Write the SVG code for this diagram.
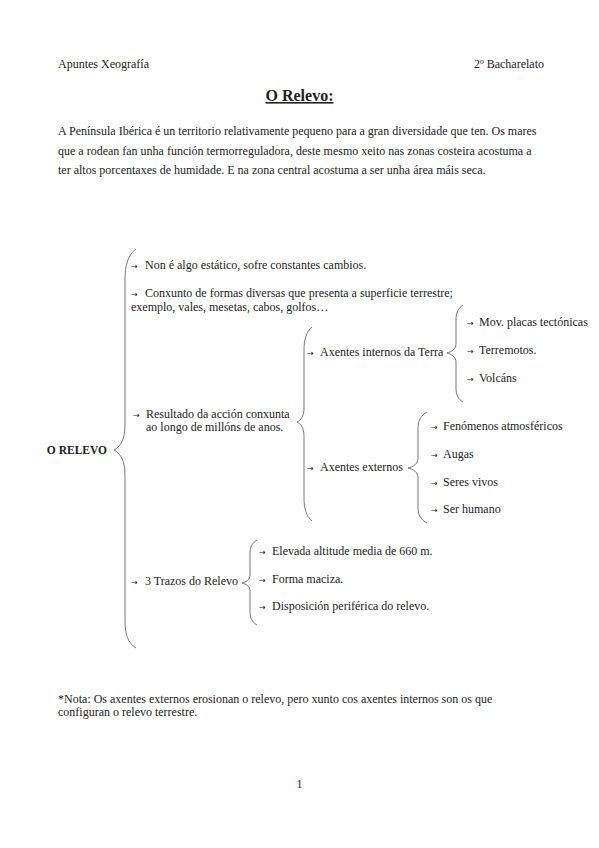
<svg xmlns="http://www.w3.org/2000/svg" width="599" height="848" viewBox="0 0 599 848">
<style>
text{font-family:"Liberation Serif","Times New Roman",serif;font-size:12px;fill:#222}
.ar{font-family:"DejaVu Sans",sans-serif;font-size:8px;fill:#111}
.b{font-weight:bold}
.br{fill:none;stroke:#666;stroke-width:0.9}
</style>
<rect width="599" height="848" fill="#fff"/>
<g id="header">
<text x="58" y="68">Apuntes Xeografía</text>
<text x="544" y="68" text-anchor="end">2º Bacharelato</text>
<text x="299.5" y="101" text-anchor="middle" class="b" style="font-size:16px;text-decoration:underline">O Relevo:</text>
<text x="58" y="135">A Península Ibérica é un territorio relativamente pequeno para a gran diversidade que ten. Os mares</text>
<text x="58" y="155">que a rodean fan unha función termorreguladora, deste mesmo xeito nas zonas costeira acostuma a</text>
<text x="58" y="174">ter altos porcentaxes de humidade. E na zona central acostuma a ser unha área máis seca.</text>
</g>
<g id="connectors">
<path class="br" d="M136 249 C128 255 125 265 125 280 L125 425 C125 440 120 447 114 450 C120 453 125 460 125 475 L125 620 C125 635 128 643 136 648"/>
<path class="br" d="M312 327 C306 332 304 340 304 350 L304 408 C304 416 301 420 297 422 C301 424 304 428 304 436 L304 498 C304 508 306 516 312 521"/>
<path class="br" d="M463 305 C458 308 456 313 456 320 L456 344 C456 349 451 352 447 353 C451 354 456 357 456 362 L456 388 C456 395 458 399 463 402"/>
<path class="br" d="M427 412 C421 415 418 421 418 428 L418 458 C418 464 413 467 408 468 C413 469 418 472 418 478 L418 508 C418 515 421 520 427 523"/>
<path class="br" d="M257 540 C252 543 250 547 250 553 L250 575 C250 580 246 582 242 583 C246 584 250 586 250 591 L250 612 C250 618 252 622 257 625"/>
</g>
<g id="n-relevo"><text x="107" y="454" class="b" text-anchor="end" style="font-size:11.5px">O RELEVO</text></g>
<g id="n-non"><text x="131" y="269"><tspan class="ar">→</tspan><tspan x="145">Non é algo estático, sofre constantes cambios.</tspan></text></g>
<g id="n-conxunto"><text x="131" y="297"><tspan class="ar">→</tspan><tspan x="145">Conxunto de formas diversas que presenta a superficie terrestre;</tspan></text><text x="131" y="311">exemplo, vales, mesetas, cabos, golfos…</text></g>
<g id="n-resultado"><text x="133" y="418"><tspan class="ar">→</tspan><tspan x="146">Resultado da acción conxunta</tspan></text><text x="146" y="431">ao longo de millóns de anos.</text></g>
<g id="n-internos"><text x="307" y="356"><tspan class="ar">→</tspan><tspan x="320">Axentes internos da Terra</tspan></text></g>
<g id="n-mov"><text x="467" y="326"><tspan class="ar">→</tspan><tspan x="479">Mov. placas tectónicas</tspan></text></g>
<g id="n-terremotos"><text x="467" y="354"><tspan class="ar">→</tspan><tspan x="479">Terremotos.</tspan></text></g>
<g id="n-volcans"><text x="467" y="382"><tspan class="ar">→</tspan><tspan x="479">Volcáns</tspan></text></g>
<g id="n-externos"><text x="307" y="471"><tspan class="ar">→</tspan><tspan x="320">Axentes externos</tspan></text></g>
<g id="n-fenomenos"><text x="431" y="430"><tspan class="ar">→</tspan><tspan x="443">Fenómenos atmosféricos</tspan></text></g>
<g id="n-augas"><text x="431" y="458"><tspan class="ar">→</tspan><tspan x="443">Augas</tspan></text></g>
<g id="n-seres"><text x="431" y="486"><tspan class="ar">→</tspan><tspan x="443">Seres vivos</tspan></text></g>
<g id="n-humano"><text x="431" y="513"><tspan class="ar">→</tspan><tspan x="443">Ser humano</tspan></text></g>
<g id="n-trazos"><text x="131" y="585"><tspan class="ar">→</tspan><tspan x="145">3 Trazos do Relevo</tspan></text></g>
<g id="n-elevada"><text x="259" y="555"><tspan class="ar">→</tspan><tspan x="272">Elevada altitude media de 660 m.</tspan></text></g>
<g id="n-forma"><text x="259" y="583"><tspan class="ar">→</tspan><tspan x="272">Forma maciza.</tspan></text></g>
<g id="n-disposicion"><text x="259" y="610"><tspan class="ar">→</tspan><tspan x="272">Disposición periférica do relevo.</tspan></text></g>
<g id="note">
<text x="58" y="703">*Nota: Os axentes externos erosionan o relevo, pero xunto cos axentes internos son os que</text>
<text x="58" y="716">configuran o relevo terrestre.</text>
<text x="299.5" y="788" text-anchor="middle">1</text>
</g>
</svg>
